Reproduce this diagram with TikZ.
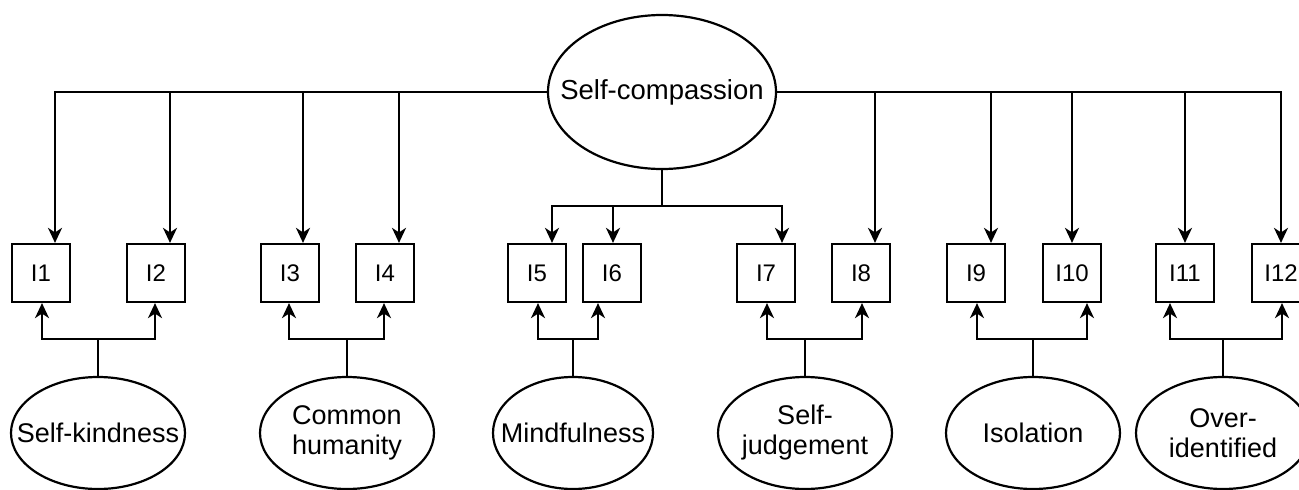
\documentclass[tikz,border=0pt]{standalone}
\usepackage{fontspec}
\setmainfont{Liberation Sans}
\usetikzlibrary{shapes.geometric,arrows.meta,calc}
\begin{document}
\begin{tikzpicture}[x=1pt,y=-1pt,
  lw/.style={line width=2.2pt},
  item/.style={draw,lw,minimum width=58pt,minimum height=58pt,inner sep=0pt,font=\fontsize{24}{28}\selectfont},
  latent/.style={draw,lw,ellipse,inner sep=0pt},
  lab/.style={font=\fontsize{27}{30}\selectfont,align=center,inner sep=0pt},
  factor/.style={latent,minimum width=174pt,minimum height=112pt},
  arr/.style={lw,-{Stealth[length=15pt 0 0,width=14pt 0 0,inset=4.5pt]}},
  link/.style={lw}]
\useasboundingbox (0,0) rectangle (1299,490);
\clip (0,0) rectangle (1299,490);

% general factor
\node[latent,minimum width=228pt,minimum height=154pt,label={[lab,font=\fontsize{27.5}{30}\selectfont]center:Self-compassion}] (SC) at (662,92) {};

% items
\node[item] (I1)  at (41,273)   {I1};
\node[item] (I2)  at (156,273)  {I2};
\node[item] (I3)  at (290,273)  {I3};
\node[item] (I4)  at (385,273)  {I4};
\node[item] (I5)  at (537,273)  {I5};
\node[item] (I6)  at (612,273)  {I6};
\node[item] (I7)  at (766,273)  {I7};
\node[item] (I8)  at (861,273)  {I8};
\node[item] (I9)  at (976,273)  {I9};
\node[item] (I10) at (1072,273) {I10};
\node[item] (I11) at (1185,273) {I11};
\node[item] (I12) at (1281,273) {I12};

% specific factors
\node[factor,label={[lab]center:Self-kindness}] (SK) at (98,433) {};
\node[factor,label={[lab]center:Common\\humanity}] (CH) at (347,433) {};
\node[factor,minimum width=160pt,label={[lab]center:Mindfulness}] (MF) at (573,433) {};
\node[factor,label={[lab]center:Self-\\judgement}] (SJ) at (805,433) {};
\node[factor,label={[lab]center:Isolation}] (IS) at (1033,433) {};
\node[factor,label={[lab]center:Over-\\identified}] (OI) at (1223,433) {};

% general factor loadings
\draw[arr] (SC.west) -| ($(I1.north)+(14,0)$);
\draw[arr] (SC.west) -| ($(I2.north)+(14,0)$);
\draw[arr] (SC.west) -| ($(I3.north)+(13,0)$);
\draw[arr] (SC.west) -| ($(I4.north)+(14,0)$);
\draw[arr] (SC.east) -| ($(I8.north)+(14,0)$);
\draw[arr] (SC.east) -| ($(I9.north)+(15,0)$);
\draw[arr] (SC.east) -| (I10.north);
\draw[arr] (SC.east) -| (I11.north);
\draw[arr] (SC.east) -| (I12.north);
\coordinate (jSC) at ($(SC.south)+(0,36)$);
\draw[link] (SC.south) -- (jSC);
\draw[arr] (jSC) -| ($(I5.north)+(15,0)$);
\draw[arr] (jSC) -| ($(I6.north)+(1,0)$);
\draw[arr] (jSC) -| ($(I7.north)+(16,0)$);

% specific factor loadings
\coordinate (jSK) at ($(SK.north)+(0,-37)$);
\draw[link] (SK.north) -- (jSK);
\draw[arr] (jSK) -| ($(I1.south)+(1,0)$);
\draw[arr] (jSK) -| ($(I2.south)+(-1,0)$);

\coordinate (jCH) at ($(CH.north)+(0,-37)$);
\draw[link] (CH.north) -- (jCH);
\draw[arr] (jCH) -| ($(I3.south)+(-1,0)$);
\draw[arr] (jCH) -| ($(I4.south)+(-1,0)$);

\coordinate (jMF) at ($(MF.north)+(0,-37)$);
\draw[link] (MF.north) -- (jMF);
\draw[arr] (jMF) -| ($(I5.south)+(1,0)$);
\draw[arr] (jMF) -| ($(I6.south)+(-14,0)$);

\coordinate (jSJ) at ($(SJ.north)+(0,-37)$);
\draw[link] (SJ.north) -- (jSJ);
\draw[arr] (jSJ) -| ($(I7.south)+(1,0)$);
\draw[arr] (jSJ) -| ($(I8.south)+(1,0)$);

\coordinate (jIS) at ($(IS.north)+(0,-37)$);
\draw[link] (IS.north) -- (jIS);
\draw[arr] (jIS) -| ($(I9.south)+(1,0)$);
\draw[arr] (jIS) -| ($(I10.south)+(15,0)$);

\coordinate (jOI) at ($(OI.north)+(0,-37)$);
\draw[link] (OI.north) -- (jOI);
\draw[arr] (jOI) -| ($(I11.south)+(-15,0)$);
\draw[arr] (jOI) -| ($(I12.south)+(1,0)$);
\end{tikzpicture}
\end{document}
